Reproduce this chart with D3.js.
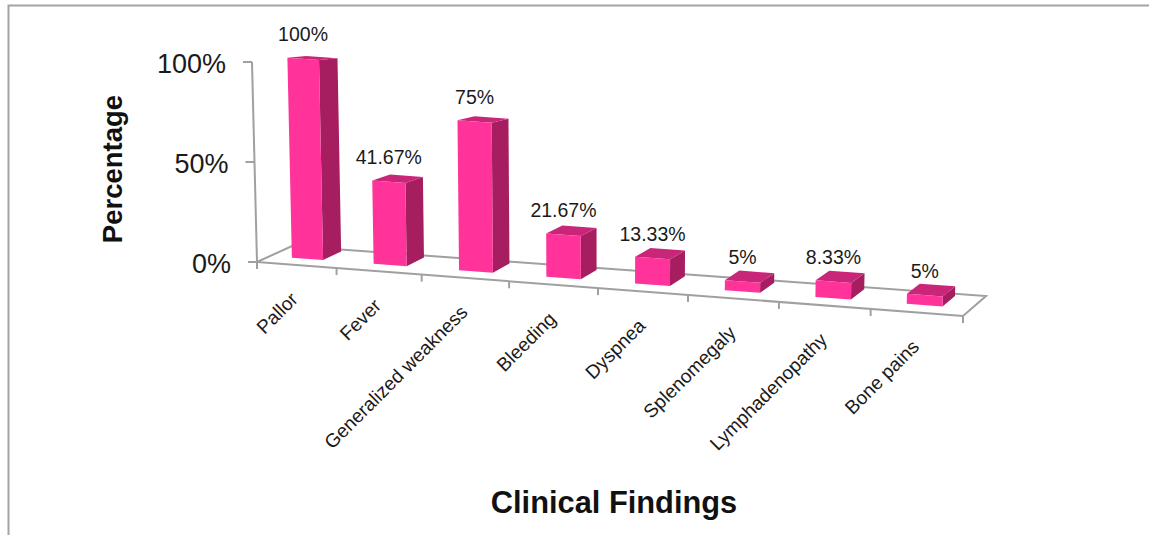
<!DOCTYPE html>
<html>
<head>
<meta charset="utf-8">
<script src="https://cdn.jsdelivr.net/npm/d3@7"></script>
<style>
html,body{margin:0;padding:0;background:#fff;}
svg{display:block;font-family:"Liberation Sans",Arial,sans-serif;}
</style>
</head>
<body>
<svg id="chart" width="1149" height="535"></svg>
<script>
const categories = ["Pallor","Fever","Generalized weakness","Bleeding","Dyspnea","Splenomegaly","Lymphadenopathy","Bone pains"];
const values = [100,41.67,75,21.67,13.33,5,8.33,5];
const valueLabels = ["100%","41.67%","75%","21.67%","13.33%","5%","8.33%","5%"];
const axisTicks = [0,50,100];

const svg = d3.select("#chart");
const frontColor = "#ff3399", sideColor = "#a61e60", topColor = "#c9267a", axisColor = "#a0a0a0";

// Floor plane of the 3-D plot: a bilinear map from the unit square onto its quad.
const floorQuad = [[257,262],[963,316],[986,296],[292,246]];
const mix = (a,b,t) => [a[0]+(b[0]-a[0])*t, a[1]+(b[1]-a[1])*t];
const floorMap = (s,t) => mix(mix(floorQuad[0],floorQuad[1],s), mix(floorQuad[3],floorQuad[2],s), t);

// Category slots widen slightly towards the right of the floor.
const slot = d3.scalePow().exponent(1.05).domain([0,categories.length]).range([0,1]);
const height = d3.scaleLinear().domain([0,100]).range([0,200]);
const vanishX = 600, lean = 7.3e-5, depthShrink = 0.064;

// Bar footprint inside a category slot and across the floor depth.
const uA = 0.295, uB = 0.685, dA = 0.37, dB = 0.90;

// Project slot position, depth (0 front, 1 back) and pixel height to the screen.
function place(u, depth, h) {
  const [fx,fy] = floorMap(slot(u), depth);
  return [fx + (fx - vanishX) * lean * h, fy - h];
}
// Bar points: heights recede slightly with depth behind the front face.
const project = (u, depth, v) => place(u, depth, height(v) * (1 - depthShrink * (depth - dA)));
// Value axis points stand on the front-left corner of the floor.
const axisPoint = v => place(0, 0, height(v));

const line = d3.line();
const poly = pts => line(pts) + "Z";

// Frame
svg.append("path").attr("d","M8.5,535V5.5H1149").attr("fill","none").attr("stroke","#a3a3a3").attr("stroke-width",2);

// Floor outline
const axisG = svg.append("g").attr("fill","none").attr("stroke",axisColor).attr("stroke-width",2);
axisG.append("path").attr("d", line([floorMap(0,0),floorMap(0,1),floorMap(1,1),floorMap(1,0),floorMap(0,0)]));

// Category ticks along the front edge
d3.range(categories.length+1).forEach(i => {
  const [x,y] = place(i,0,0);
  axisG.append("path").attr("d", line([[x,y],[x,y+7]]));
});

// Value axis
axisG.append("path").attr("d", line([axisPoint(0),axisPoint(100)]));
axisG.selectAll("path.vtick").data(axisTicks).join("path").attr("class","vtick")
  .attr("d", v => { const [x,y]=axisPoint(v); return line([[x,y],[x-9,y]]); });

svg.selectAll("text.vlabel").data(axisTicks).join("text").attr("class","vlabel")
  .attr("x", v => axisPoint(v)[0]-26)
  .attr("y", v => axisPoint(v)[1]+11)
  .attr("text-anchor","end").attr("font-size",27).attr("fill","#1a1a1a")
  .text(v => v + "%");

// Bars
const bars = svg.selectAll("g.bar").data(values).join("g").attr("class","bar");
bars.append("path").attr("fill",sideColor).attr("d",(v,i) => poly([
  project(i+uB,dA,0),project(i+uB,dB,0),project(i+uB,dB,v),project(i+uB,dA,v)]));
bars.append("path").attr("fill",topColor).attr("d",(v,i) => poly([
  project(i+uA,dA,v),project(i+uB,dA,v),project(i+uB,dB,v),project(i+uA,dB,v)]));
bars.append("path").attr("fill",frontColor).attr("d",(v,i) => poly([
  project(i+uA,dA,0),project(i+uB,dA,0),project(i+uB,dA,v),project(i+uA,dA,v)]));

// Value labels above each bar
svg.selectAll("text.dlabel").data(values).join("text").attr("class","dlabel")
  .attr("x",(v,i) => project(i+(uA+uB)/2,dA,v)[0])
  .attr("y",(v,i) => project(i+(uA+uB)/2,dA,v)[1]-17.5)
  .attr("text-anchor","middle").attr("font-size",19.5).attr("fill","#1a1a1a")
  .text((v,i) => valueLabels[i]);

// Category labels
svg.selectAll("text.clabel").data(categories).join("text").attr("class","clabel")
  .attr("transform",(c,i) => { const [x,y]=place(i+0.5,0,0); return `translate(${x},${y+32}) rotate(-45)`; })
  .attr("text-anchor","end").attr("dominant-baseline","middle").attr("font-size",19.1).attr("fill","#1a1a1a")
  .text(c => c);

// Axis titles
svg.append("text").attr("transform","translate(122,169) rotate(-90)")
  .attr("text-anchor","middle").attr("font-size",27.5).attr("font-weight","bold").attr("fill","#111").text("Percentage");
svg.append("text").attr("x",614).attr("y",513)
  .attr("text-anchor","middle").attr("font-size",30.8).attr("font-weight","bold").attr("fill","#111").text("Clinical Findings");
</script>
</body>
</html>
